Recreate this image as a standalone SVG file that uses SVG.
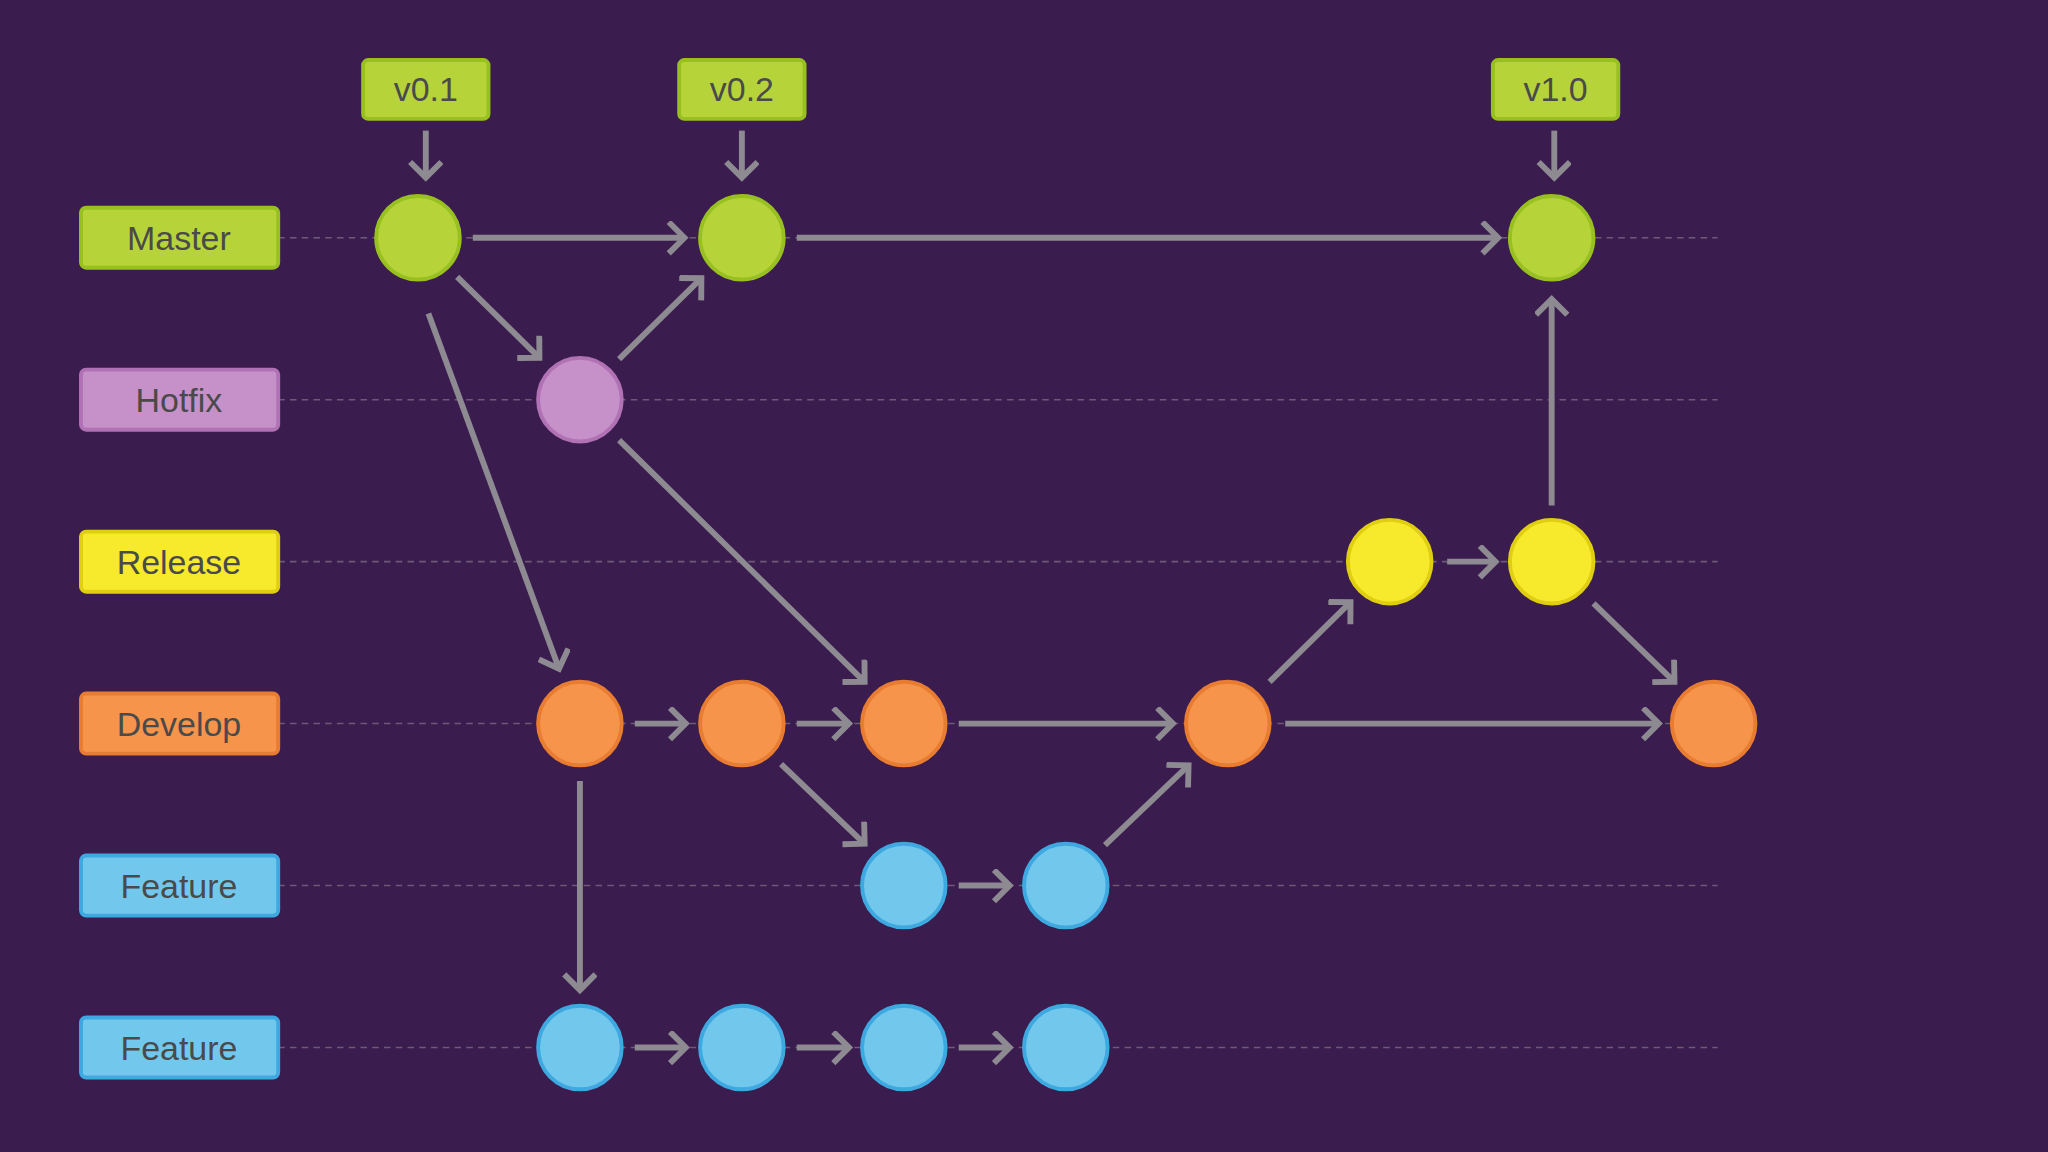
<svg xmlns="http://www.w3.org/2000/svg" width="2048" height="1152" viewBox="0 0 2048 1152">
<style>
.lbl{font-family:"Liberation Sans",Arial,sans-serif;font-size:26px;fill:#4a4a4a;text-anchor:middle;dominant-baseline:central}
.grid{stroke:#6e5a78;stroke-width:1.2;stroke-dasharray:5 4}
.c line{stroke:#8e8a92;stroke-width:4.5;marker-end:url(#ah)}
.g{fill:#b6d43a;stroke:#98c020;stroke-width:3}
.h{fill:#c690c8;stroke:#b072b4;stroke-width:3}
.r{fill:#f7ea2c;stroke:#e0cf10;stroke-width:3}
.d{fill:#f6944c;stroke:#e87c30;stroke-width:3}
.f{fill:#72c8ec;stroke:#3ea8e0;stroke-width:3}
</style>
<defs>
<marker id="ah" markerUnits="userSpaceOnUse" markerWidth="30" markerHeight="30" refX="14" refY="13" orient="auto" viewBox="0 0 30 30">
<path d="M2 1 L14 13 L2 25" fill="none" stroke="#8e8a92" stroke-width="4.5"/>
</marker>
</defs>
<rect width="2048" height="1152" fill="#3a1d4e"/>
<g transform="scale(1.30612)">
<g id="gridlines">
<line class="grid" x1="213" y1="182" x2="1315" y2="182"/>
<line class="grid" x1="213" y1="306" x2="1315" y2="306"/>
<line class="grid" x1="213" y1="430" x2="1315" y2="430"/>
<line class="grid" x1="213" y1="554" x2="1315" y2="554"/>
<line class="grid" x1="213" y1="678" x2="1315" y2="678"/>
<line class="grid" x1="213" y1="802" x2="1315" y2="802"/>
</g>
<g id="labels">
<g id="lbl-master"><rect x="62" y="159" width="151" height="46" rx="4" class="g"/><text class="lbl" x="137" y="182">Master</text></g>
<g id="lbl-hotfix"><rect x="62" y="283" width="151" height="46" rx="4" class="h"/><text class="lbl" x="137" y="306">Hotfix</text></g>
<g id="lbl-release"><rect x="62" y="407" width="151" height="46" rx="4" class="r"/><text class="lbl" x="137" y="430">Release</text></g>
<g id="lbl-develop"><rect x="62" y="531" width="151" height="46" rx="4" class="d"/><text class="lbl" x="137" y="554">Develop</text></g>
<g id="lbl-feature1"><rect x="62" y="655" width="151" height="46" rx="4" class="f"/><text class="lbl" x="137" y="678">Feature</text></g>
<g id="lbl-feature2"><rect x="62" y="779" width="151" height="46" rx="4" class="f"/><text class="lbl" x="137" y="802">Feature</text></g>
<g id="tag-v01"><rect x="278" y="46" width="96" height="45" rx="4" class="g"/><text class="lbl" x="326" y="68">v0.1</text></g>
<g id="tag-v02"><rect x="520" y="46" width="96" height="45" rx="4" class="g"/><text class="lbl" x="568" y="68">v0.2</text></g>
<g id="tag-v10"><rect x="1143" y="46" width="96" height="45" rx="4" class="g"/><text class="lbl" x="1191" y="68">v1.0</text></g>
</g>
<g id="connectors" class="c">
<line x1="326" y1="100" x2="326" y2="136"/>
<line x1="568" y1="100" x2="568" y2="136"/>
<line x1="1190" y1="100" x2="1190" y2="136"/>
<line x1="362" y1="182" x2="524" y2="182"/>
<line x1="610" y1="182" x2="1147" y2="182"/>
<line x1="350" y1="212" x2="413" y2="274"/>
<line x1="474" y1="275" x2="537" y2="213"/>
<line x1="328" y1="240" x2="428" y2="512"/>
<line x1="474" y1="337" x2="662" y2="522"/>
<line x1="486" y1="554" x2="525" y2="554"/>
<line x1="610" y1="554" x2="650" y2="554"/>
<line x1="734" y1="554" x2="898" y2="554"/>
<line x1="972" y1="522" x2="1034" y2="461"/>
<line x1="1108" y1="430" x2="1145" y2="430"/>
<line x1="1188" y1="387" x2="1188" y2="229"/>
<line x1="1220" y1="462" x2="1282" y2="522"/>
<line x1="984" y1="554" x2="1270" y2="554"/>
<line x1="598" y1="585" x2="662" y2="646"/>
<line x1="734" y1="678" x2="773" y2="678"/>
<line x1="846" y1="647" x2="910" y2="586"/>
<line x1="444" y1="598" x2="444" y2="758"/>
<line x1="486" y1="802" x2="525" y2="802"/>
<line x1="610" y1="802" x2="650" y2="802"/>
<line x1="734" y1="802" x2="773" y2="802"/>
</g>
<g id="commits">
<circle id="m1" cx="320" cy="182" r="32" class="g"/>
<circle id="m2" cx="568" cy="182" r="32" class="g"/>
<circle id="m3" cx="1188" cy="182" r="32" class="g"/>
<circle id="h1" cx="444" cy="306" r="32" class="h"/>
<circle id="r1" cx="1064" cy="430" r="32" class="r"/>
<circle id="r2" cx="1188" cy="430" r="32" class="r"/>
<circle id="d1" cx="444" cy="554" r="32" class="d"/>
<circle id="d2" cx="568" cy="554" r="32" class="d"/>
<circle id="d3" cx="692" cy="554" r="32" class="d"/>
<circle id="d4" cx="940" cy="554" r="32" class="d"/>
<circle id="d5" cx="1312" cy="554" r="32" class="d"/>
<circle id="fa1" cx="692" cy="678" r="32" class="f"/>
<circle id="fa2" cx="816" cy="678" r="32" class="f"/>
<circle id="fb1" cx="444" cy="802" r="32" class="f"/>
<circle id="fb2" cx="568" cy="802" r="32" class="f"/>
<circle id="fb3" cx="692" cy="802" r="32" class="f"/>
<circle id="fb4" cx="816" cy="802" r="32" class="f"/>
</g>
</g>
</svg>
